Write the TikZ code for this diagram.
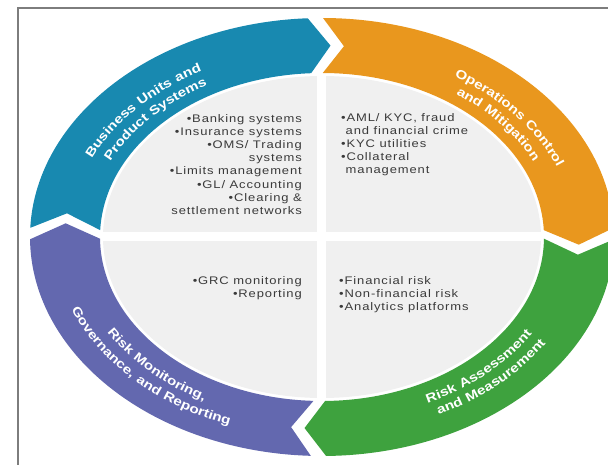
\documentclass[tikz,border=0pt]{standalone}
\usepackage{fontspec}
\setmainfont{Liberation Sans}
\newfontfamily\itemfont{Liberation Sans}[FakeStretch=1.18,LetterSpace=8]
\newfontfamily\ringfont{Liberation Sans}[FakeStretch=1.22,LetterSpace=6]
\usetikzlibrary{decorations.text}
\definecolor{ringblue}{RGB}{24,137,176}
\definecolor{ringorange}{RGB}{233,151,30}
\definecolor{ringgreen}{RGB}{62,162,62}
\definecolor{ringpurple}{RGB}{99,104,175}
\definecolor{innergray}{RGB}{240,240,240}
\definecolor{itemgray}{RGB}{58,58,58}
\definecolor{framegray}{RGB}{125,125,125}
% one coloured arrow piece of the ring: colour, tail angle, head angle
\newcommand{\ringseg}[3]{
    \fill[#1] (#2:292 and 219)
        arc[start angle=#2, end angle=#3, x radius=292, y radius=219]
        -- ({#3-4.7}:257 and 191.5) -- (#3:222 and 164)
        arc[start angle=#3, end angle=#2, x radius=222, y radius=164]
        -- ({#2-4.7}:257 and 191.5) -- cycle;
}
% one line of white text along the ring
\newcommand{\ringlabel}[5]{
    \path[ringtext={|\ringfont\bfseries\fontsize{12.5}{14}\selectfont|#1}]
        (#2:#4 and #5) arc[start angle=#2, end angle=#3, x radius=#4, y radius=#5];
}

\begin{document}
\begin{tikzpicture}[x=1pt,y=1pt,
    items/.style={font=\itemfont\fontsize{11}{13.2}\selectfont, text=itemgray, inner sep=0pt},
    ringtext/.style={decorate, decoration={text along path, text align=center, text color=white, text={#1}}}]
        \useasboundingbox (-322,-228) rectangle (286,237);
        \clip (-322,-228) rectangle (286,237);
        \draw[framegray, line width=2pt] (-303.5,-230) -- (-303.5,229) -- (290,229);
        % inside of the ring
        \fill[innergray] (0,0) ellipse[x radius=219, y radius=161];
        \draw[white, line width=9pt] (0,166) -- (0,-166);
        \draw[white, line width=9pt] (-224,0) -- (224,0);
        % ring
        \ringseg{ringblue}{177.6}{92.8}
        \ringseg{ringorange}{89.8}{2.4}
        \ringseg{ringgreen}{-0.6}{-89.2}
        \ringseg{ringpurple}{-92.2}{-179.4}
        \ringlabel{Business Units and}{191}{91}{252.8}{188.2}
        \ringlabel{Product Systems}{191}{91}{234.6}{173.9}
        \ringlabel{Operations Control}{86}{-14}{252.8}{188.2}
        \ringlabel{and Mitigation}{86}{-14}{234.6}{173.9}
        \ringlabel{Risk Assessment}{-94}{6}{247.2}{183.8}
        \ringlabel{and Measurement}{-94}{6}{265.4}{198.1}
        \ringlabel{Risk Monitoring,}{172}{272}{250}{186}
        \ringlabel{Governance, and Reporting}{172}{272}{268.5}{200.5}
        % quadrant texts
        \node[items, anchor=north east, align=right] (productitems) at (-20,123)
            {•Banking systems\\•Insurance systems\\•OMS/ Trading\\systems\\•Limits management\\•GL/ Accounting\\•Clearing \&\\settlement networks};
        \node[items, anchor=north west, align=left] (controlitems) at (19,124)
            {•AML/ KYC, fraud\\\hphantom{•}and financial crime\\•KYC utilities\\•Collateral\\\hphantom{•}management};
        \node[items, anchor=north east, align=right] (reportitems) at (-20,-39)
            {•GRC monitoring\\•Reporting};
        \node[items, anchor=north west, align=left] (riskitems) at (17,-39)
            {•Financial risk\\•Non-financial risk\\•Analytics platforms};
    \end{tikzpicture}
\end{document}
